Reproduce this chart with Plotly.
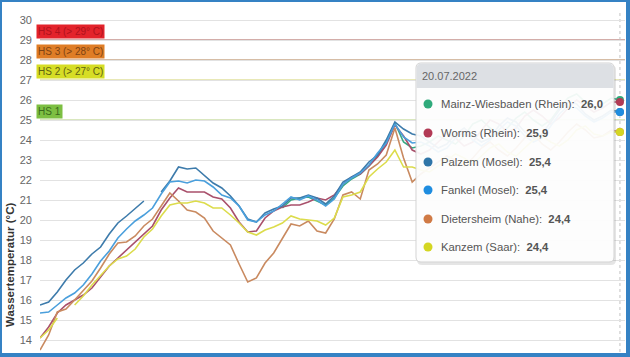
import pandas as pd
import plotly.graph_objects as go

# ---------------- data ----------------
dates = pd.date_range("2022-06-16 12:00", periods=68, freq="12h")

palzem = [15.75, 15.9, 16.4, 17.0, 17.5, 17.85, 18.3, 18.65, 19.3, 19.85,
          20.2, 20.6, 20.95, None, 21.4, 21.95, 22.65, 22.55, 22.6, 22.2,
          21.85, 21.6, 21.2, 20.7, 20.05, 19.9, 20.35, 20.55, 20.7, 21.1,
          21.1, 21.25, 21.1, 20.8, 21.2, 21.9, 22.15, 22.4, 22.9, 23.25,
          24.0, 24.9, 24.55, 24.3, 24.2, 23.9, 23.6, 23.8, 24.3, 24.6,
          24.2, 23.9, 24.1, 24.7, 25.1, 24.9, 24.4, 24.1, 24.3, 24.9,
          25.5, 25.9, 25.8, 25.3, 25.0, 25.2, 25.5, 25.4]

fankel = [15.35, 15.4, 15.75, 16.1, 16.35, 16.75, 17.3, 17.95, 18.45, 19.1,
          19.55, 19.95, 20.25, 20.6, 21.3, 21.9, 21.95, 21.85, 22.0, 21.95,
          21.65, 21.25, 21.1, 20.7, 20.0, 19.9, 20.25, 20.45, 20.8, 21.15,
          21.0, 21.2, 21.0, 20.7, 21.05, 21.8, 22.1, 22.35, 22.75, 23.35,
          23.85, 24.8, 24.15, 23.85, 23.9, 23.7, 23.4, 23.6, 24.1, 24.4,
          24.0, 23.7, 24.0, 24.5, 24.9, 24.7, 24.2, 23.9, 24.1, 24.7,
          25.3, 25.7, 25.6, 25.2, 24.9, 25.1, 25.4, 25.4]

mainz = [None, None, None, None, None, None, None, None, None, None,
         None, None, None, None, None, None, None, None, None, None,
         None, None, None, None, None, None, None, None, 20.6, 21.0,
         21.1, 21.15, 20.95, 20.75, 21.1, 21.7, 22.05, 22.3, 22.7, 23.2,
         23.9, 24.85, 23.9, 23.6, 23.7, 23.9, 24.2, 24.0, 23.8, 24.2,
         24.8, 25.0, 24.6, 24.3, 24.6, 25.1, 25.4, 25.0, 24.7, 25.0,
         25.6, 26.1, 26.3, 25.9, 25.6, 25.8, 26.1, 26.0]

worms = [14.1, 14.65, 15.35, 15.75, 16.0, 16.25, 16.6, 17.15, 17.7, 18.1,
         18.5, 18.85, 19.25, 19.7, 20.5, 21.1, 21.6, 21.4, 21.4, 21.4,
         21.15, 21.05, 20.6, 19.9, 19.4, 19.45, 20.1, 20.45, 20.65, 20.75,
         20.75, 20.9, 21.1, 21.0, 21.25, 21.8, 22.15, 22.3, 22.7, 23.15,
         23.75, 24.75, 24.2, 23.5, 23.3, 23.5, 23.9, 24.3, 24.1, 23.7,
         23.9, 24.5, 25.0, 24.8, 24.4, 24.6, 25.2, 25.5, 25.2, 24.8,
         25.1, 25.6, 26.0, 25.7, 25.4, 25.6, 25.9, 25.9]

dietersheim = [13.5, 14.25, 15.4, 15.55, 16.0, 16.45, 16.95, 17.6, 18.3, 18.85,
               18.9, 19.2, 19.7, 20.05, 20.7, 21.35, 20.95, 20.5, 20.4, 20.1,
               19.45, 19.1, 18.75, 17.8, 16.9, 17.1, 17.85, 18.35, 19.1, 19.8,
               19.7, 19.95, 19.45, 19.35, 20.05, 21.25, 21.4, 21.05, 22.5, 22.8,
               23.25, 24.6, 23.1, 21.9, 22.3, 22.6, 22.9, 23.2, 23.0, 22.7,
               23.1, 23.6, 23.9, 23.5, 23.2, 23.6, 24.1, 24.3, 23.8, 23.5,
               23.9, 24.4, 24.8, 24.5, 24.1, 24.2, 24.5, 24.4]

kanzem = [14.1, 14.5, 15.1, None, 15.75, 16.2, 16.75, 17.25, 17.7, 18.05,
          18.2, 18.55, 19.15, 19.55, 20.2, 20.75, 20.85, 20.85, 20.95, 20.85,
          20.6, 20.6, 20.25, 19.85, 19.4, 19.25, 19.5, 19.65, 19.85, 20.2,
          20.05, 20.0, 19.95, 19.75, 20.1, 21.15, 21.25, 21.4, 22.15, 22.55,
          22.9, 23.5, 22.65, 22.65, 22.5, 22.4, 22.7, 23.0, 23.3, 23.1,
          22.8, 23.2, 23.6, 23.8, 23.4, 23.2, 23.6, 24.0, 24.2, 23.9,
          23.7, 24.0, 24.5, 24.7, 24.3, 24.2, 24.4, 24.4]

series_names = ["Mainz-Wiesbaden (Rhein)", "Worms (Rhein)", "Palzem (Mosel)",
                "Fankel (Mosel)", "Dietersheim (Nahe)", "Kanzem (Saar)"]
series_values = [mainz, worms, palzem, fankel, dietersheim, kanzem]
line_colors = ["#35a882", "#a9506b", "#3d7bab", "#4a9fdc", "#c98a60", "#dcdc4c"]
dot_colors = ["#2faa7b", "#b23a55", "#2f75a8", "#1f8de0", "#d07a45", "#d4d622"]

hover_date = "20.07.2022"
hover_values = ["26,0", "25,9", "25,4", "25,4", "24,4", "24,4"]

threshold_values = [29, 28, 27, 25]
threshold_labels = ["HS 4 (> 29° C)", "HS 3 (> 28° C)", "HS 2 (> 27° C)", "HS 1"]
threshold_line_colors = ["#c4928c", "#c9a789", "#e0e09e", "#cddfa8"]
threshold_box_colors = ["#e3232b", "#df7d26", "#d6dd25", "#7dbf42"]
threshold_text_colors = ["#b0121c", "#7e4314", "#5e6212", "#3a6a1c"]

y_ticks = list(range(14, 31))

# ---------------- figure ----------------
W, H = 630, 357
L, R, T, B = 40, 5, 12, 5
plot_w = W - L - R
plot_h = H - T - B


def px(xpix):
    return (xpix - L) / plot_w


def py(ypix):
    return (H - B - ypix) / plot_h


def rrect_path(x0, y0, x1, y1, r, bottom_round=True):
    def p(a, b):
        return f"{px(a):.5f},{py(b):.5f}"
    s = f"M {p(x0 + r, y0)} L {p(x1 - r, y0)} Q {p(x1, y0)} {p(x1, y0 + r)} "
    if bottom_round:
        s += f"L {p(x1, y1 - r)} Q {p(x1, y1)} {p(x1 - r, y1)} L {p(x0 + r, y1)} Q {p(x0, y1)} {p(x0, y1 - r)} "
    else:
        s += f"L {p(x1, y1)} L {p(x0, y1)} "
    s += f"L {p(x0, y0 + r)} Q {p(x0, y0)} {p(x0 + r, y0)} Z"
    return s


fig = go.Figure()
for name, vals, col in zip(series_names, series_values, line_colors):
    fig.add_trace(go.Scatter(x=dates, y=vals, mode="lines", name=name,
                             line=dict(color=col, width=1.6),
                             connectgaps=False, hoverinfo="skip"))

# hover markers on the last date
for idx in [4, 2, 5, 3, 0, 1]:
    fig.add_trace(go.Scatter(x=[dates[-1]], y=[series_values[idx][-1]], mode="markers",
                             marker=dict(size=8, color=dot_colors[idx],
                                         line=dict(color="white", width=0)),
                             hoverinfo="skip", showlegend=False))

shapes = []
for v, c in zip(threshold_values, threshold_line_colors):
    shapes.append(dict(type="line", xref="paper", yref="y", x0=0, x1=1, y0=v, y1=v,
                       line=dict(color=c, width=1.5), layer="below"))
shapes.append(dict(type="line", xref="x", yref="paper", x0=dates[-1], x1=dates[-1],
                   y0=0, y1=1, line=dict(color="#c2c2c2", width=1, dash="dot"),
                   layer="below"))

# tooltip
tx0, ty0, tx1, ty1 = 416, 63, 614, 262
shapes.append(dict(type="path", xref="paper", yref="paper",
                   path=rrect_path(tx0 + 1, ty0 + 2, tx1 + 2, ty1 + 3, 5),
                   fillcolor="rgba(0,0,0,0.10)", line=dict(width=0), layer="above"))
shapes.append(dict(type="path", xref="paper", yref="paper",
                   path=rrect_path(tx0, ty0, tx1, ty1, 5),
                   fillcolor="rgba(255,255,255,0.93)", line=dict(color="#d3d3d3", width=1),
                   layer="above"))
shapes.append(dict(type="path", xref="paper", yref="paper",
                   path=rrect_path(tx0 + 0.5, ty0 + 0.5, tx1 - 0.5, ty0 + 25, 5, bottom_round=False),
                   fillcolor="#dde0e4", line=dict(width=0), layer="above"))

item_y = [104, 133, 162, 190, 219, 247]
for yy, c in zip(item_y, dot_colors):
    shapes.append(dict(type="circle", xref="paper", yref="paper",
                       x0=px(423.5), x1=px(432.5), y0=py(yy + 4.5), y1=py(yy - 4.5),
                       fillcolor=c, line=dict(width=0), layer="above"))

# blue frame
frame = "#3582c4"
for (a, b, c2, d) in [(0, 0, 2, 357), (626, 0, 630, 357), (0, 0, 630, 2), (0, 353, 630, 357)]:
    shapes.append(dict(type="rect", xref="paper", yref="paper",
                       x0=px(a), x1=px(c2), y0=py(d), y1=py(b),
                       fillcolor=frame, line=dict(width=0), layer="above"))

annotations = []
for v, lab, bc, tc in zip(threshold_values, threshold_labels, threshold_box_colors,
                          threshold_text_colors):
    annotations.append(dict(x=px(36), y=v, xref="paper", yref="y", xanchor="left",
                            yanchor="bottom", yshift=1, text=lab, showarrow=False,
                            bgcolor=bc, borderpad=1,
                            font=dict(family="Liberation Sans, Arial", size=10, color=tc)))

annotations.append(dict(x=px(10), y=py(265), xref="paper", yref="paper",
                        text="<b>Wassertemperatur (°C)</b>", textangle=-90, showarrow=False,
                        xanchor="center", yanchor="middle",
                        font=dict(family="Liberation Sans, Arial", size=11.5, color="#333")))

annotations.append(dict(x=px(420), y=py(75.5), xref="paper", yref="paper",
                        text=hover_date, showarrow=False, xanchor="left", yanchor="middle",
                        font=dict(family="Liberation Sans, Arial", size=11, color="#666")))
for yy, nm, val in zip(item_y, series_names, hover_values):
    annotations.append(dict(x=px(439), y=py(yy), xref="paper", yref="paper",
                            text=f"{nm}:\u00a0\u00a0<b>{val}</b>", showarrow=False,
                            xanchor="left", yanchor="middle",
                            font=dict(family="Liberation Sans, Arial", size=11.3, color="#555")))

fig.update_layout(
    width=W, height=H,
    margin=dict(l=L, r=R, t=T, b=B, pad=0),
    paper_bgcolor="white", plot_bgcolor="white",
    showlegend=False,
    shapes=shapes, annotations=annotations,
    xaxis=dict(type="date", range=[dates[0], dates[-1] + pd.Timedelta(hours=7)],
               showgrid=False, showticklabels=False, zeroline=False, showline=False),
    yaxis=dict(range=[13.4, 30.4], tickvals=y_ticks, ticktext=[str(t) for t in y_ticks],
               showgrid=True, gridcolor="#e2e2e2", gridwidth=1, zeroline=False,
               showline=False, ticks="", ticklabelstandoff=7,
               tickfont=dict(family="Liberation Sans, Arial", size=11, color="#666")),
)

fig.write_html("out.html", config={"displayModeBar": False},
               post_script="document.body.style.margin='0';document.body.style.overflow='hidden';")
